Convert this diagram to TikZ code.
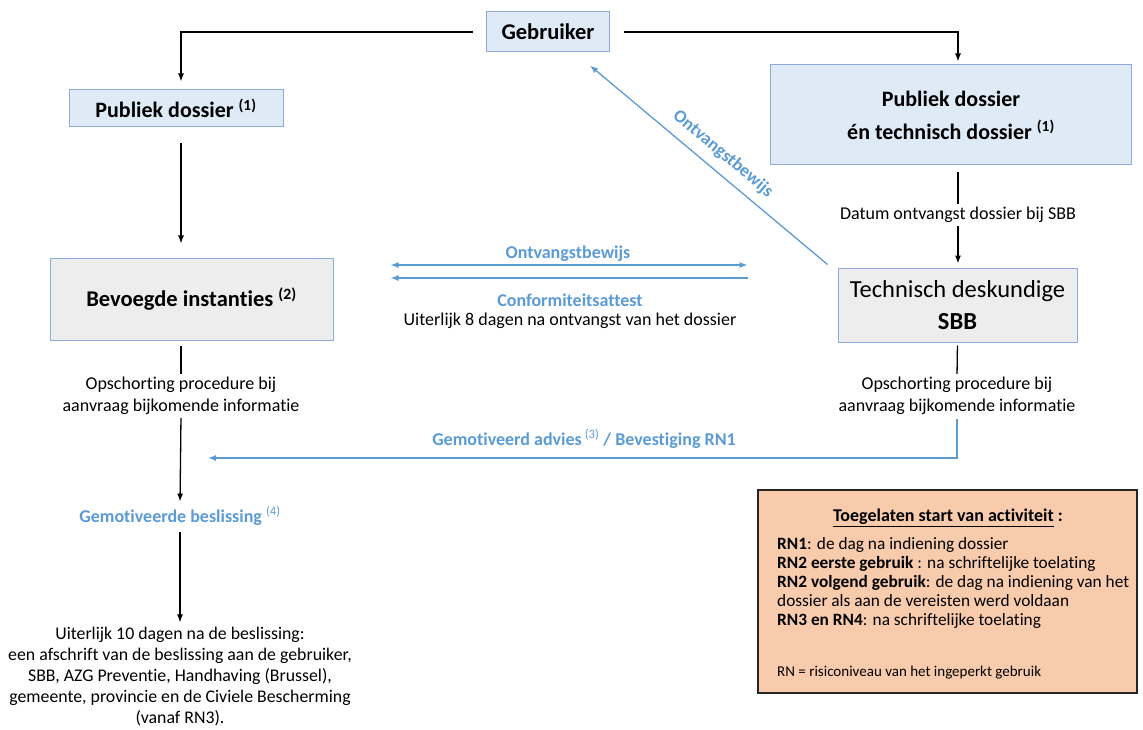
\documentclass[tikz,border=0pt]{standalone}
\usepackage{fontspec}
\setmainfont{Carlito}[Ligatures=NoCommon]
\usetikzlibrary{arrows.meta}
\definecolor{lichtblauw}{HTML}{DEEBF7}
\definecolor{randblauw}{HTML}{8FAADC}
\definecolor{pijlblauw}{HTML}{5B9BD5}
\definecolor{grijs}{HTML}{EDEDED}
\definecolor{oranje}{HTML}{F8CBAD}

\begin{document}
\begin{tikzpicture}[x=1pt, y=-1pt, >={Latex[length=8pt,width=6pt]},
    font=\fontsize{18}{22}\selectfont,
    vak/.style={draw=randblauw, fill=lichtblauw, line width=1pt, align=center, inner sep=0pt},
    grijsvak/.style={vak, fill=grijs},
    tekst/.style={align=center, inner sep=1pt},
    blauwtekst/.style={tekst, text=pijlblauw, font=\fontsize{18}{22}\selectfont\bfseries},
    zwartlijn/.style={line width=1.3pt},
    blauwlijn/.style={pijlblauw, line width=1.3pt}]
  \useasboundingbox (0,0) rectangle (1143,730);
  % vakken
  \node[vak, minimum width=123, minimum height=40, font=\fontsize{22.5}{24}\selectfont\bfseries]
    (gebruiker) at (548,32) {Gebruiker};
  \node[vak, minimum width=214, minimum height=37, font=\fontsize{22}{24}\selectfont\bfseries]
    (publiek) at (176,108.5) {Publiek dossier \textsuperscript{(1)}};
  \node[vak, minimum width=361, minimum height=100, font=\fontsize{22}{33}\selectfont\bfseries]
    (pubtech) at (951,115) {Publiek dossier\\én technisch dossier \textsuperscript{(1)}};
  \node[grijsvak, minimum width=283, minimum height=82, font=\fontsize{22.5}{26}\selectfont\bfseries]
    (bevoegd) at (191.5,299) {Bevoegde instanties \textsuperscript{(2)}};
  \node[grijsvak, minimum width=239, minimum height=74, font=\fontsize{24.5}{32}\selectfont]
    (deskundige) at (957.5,305) {Technisch deskundige\\\textbf{SBB}};
  % teksten
  \node[tekst] (datum) at (958,215) {Datum ontvangst dossier bij SBB};
  \node[tekst] (opschortL) at (181,396) {Opschorting procedure bij\\aanvraag bijkomende informatie};
  \node[tekst] (opschortR) at (957,396) {Opschorting procedure bij\\aanvraag bijkomende informatie};
  \node[blauwtekst] (beslissing) at (180,516) {Gemotiveerde beslissing \textsuperscript{\mdseries(4)}};
  \node[tekst, font=\fontsize{17.8}{21}\selectfont] (afschrift) at (180,677) {Uiterlijk 10 dagen na de beslissing:\\
    een afschrift van de beslissing aan de gebruiker,\\
    SBB, AZG Preventie, Handhaving (Brussel),\\
    gemeente, provincie en de Civiele Bescherming\\
    (vanaf RN3).};
  \node[blauwtekst] (ontvangst) at (568,254) {Ontvangstbewijs};
  \node[blauwtekst] (conform) at (570,300) {Conformiteitsattest};
  \node[tekst] (termijn) at (570,321) {Uiterlijk 8 dagen na ontvangst van het dossier};
  \node[blauwtekst] (advies) at (584,439) {Gemotiveerd advies\,\textsuperscript{\mdseries(3)} / Bevestiging RN1};
  \node[blauwtekst, rotate=-40] (ontvangst2) at (723,154) {Ontvangstbewijs};
  % toegelaten start
  \node[draw=black!85, fill=oranje, line width=1.8pt, minimum width=379, minimum height=203]
    (toegelaten) at (947.5,591.5) {};
  \node[tekst] (titel) at (948,518) {\bfseries\underline{Toegelaten start van activiteit} :};
  \node[anchor=north west, align=left, inner sep=0pt, font=\fontsize{17.3}{19}\selectfont]
    (rnlijst) at (777,537) {\textbf{RN1}: de dag na indiening dossier\\
    \textbf{RN2 eerste gebruik} : na schriftelijke toelating\\
    \textbf{RN2 volgend gebruik}: de dag na indiening van het\\
    dossier als aan de vereisten werd voldaan\\
    \textbf{RN3 en RN4}: na schriftelijke toelating};
  \node[anchor=west, inner sep=0pt, font=\fontsize{15}{17}\selectfont]
    (rnuitleg) at (777,673) {RN = risiconiveau van het ingeperkt gebruik};
  % verbindingen
  \draw[zwartlijn, ->, shorten <=13pt, shorten >=8pt] (gebruiker.west) -| ([xshift=5]publiek.north);
  \draw[zwartlijn, ->, shorten <=14pt, shorten >=3pt] (gebruiker.east) -| ([xshift=7]pubtech.north);
  \draw[zwartlijn, ->, shorten <=16pt, shorten >=14pt] ([xshift=5]publiek.south) -- ([xshift=5]publiek.south |- bevoegd.north);
  \draw[zwartlijn, shorten <=7pt, shorten >=2pt] ([xshift=7]pubtech.south) -- (datum.north);
  \draw[zwartlijn, ->, shorten <=2pt, shorten >=4pt] (datum.south) -- (datum.south |- deskundige.north);
  \draw[blauwlijn, ->] ([shift={(-10,-3)}]deskundige.north west) -- ([shift={(-20,13)}]gebruiker.south east);
  \draw[blauwlijn, <->] ([shift={(57,-34)}]bevoegd.east) -- ([shift={(-90,-40)}]deskundige.west);
  \draw[blauwlijn, <-] ([shift={(57,-21)}]bevoegd.east) -- ([shift={(-90,-27)}]deskundige.west);
  \draw[zwartlijn, shorten <=5pt, shorten >=2pt] ([xshift=-10.5]bevoegd.south) -- (opschortL.north);
  \draw[zwartlijn, ->, shorten <=2pt, shorten >=4pt] (opschortL.south) -- (beslissing.north);
  \draw[zwartlijn, ->, shorten <=6pt, shorten >=4pt] (beslissing.south) -- (afschrift.north);
  \draw[zwartlijn, shorten <=3pt, shorten >=2pt] (deskundige.south) -- (opschortR.north);
  \coordinate (adviesdoel) at (208,458);
  \draw[blauwlijn, ->, shorten <=3pt] (opschortR.south) |- (adviesdoel);
\end{tikzpicture}
\end{document}
